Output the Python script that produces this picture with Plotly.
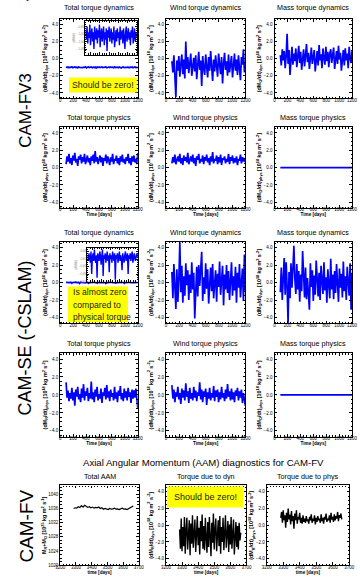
import plotly.graph_objects as go

W, H = 360, 584

# ---------------- data ----------------
total_dyn_fv3 = [-0.98, -1.03, -0.96, -1.05, -0.99, -1.02, -0.95, -1.06, -1.00, -0.97, -1.04, -0.99, -1.08, -0.96, -1.01,
                 -1.03, -0.97, -1.05, -0.98, -1.02, -0.95, -1.07, -1.00, -0.97, -1.04, -1.01, -0.96, -1.06, -0.99, -1.03,
                 -0.97, -1.09, -0.98, -1.02, -0.96, -1.04, -1.00, -0.97, -1.05, -0.99, -1.03, -0.96, -1.07, -1.01, -0.98,
                 -1.04, -0.97, -1.02, -0.99, -1.06, -0.96, -1.03, -1.00, -0.98, -1.05, -0.97, -1.02, -1.08, -0.99, -0.96,
                 -1.04, -1.01, -0.97, -1.03, -0.99, -1.06, -0.98, -1.02, -0.96, -1.05, -1.00, -0.97, -1.04, -0.99, -1.02]
wind_dyn_fv3 = [-0.3, -1.6, 0.4, -1.9, -4.5, -0.2, -1.4, 0.3, -2.1, -0.6, 0.5, -1.8, -0.1, -2.3, 2.0, -1.2, 0.2, -1.7,
                -0.5, 0.6, -2.0, -0.9, 0.1, -1.5, 0.4, -2.4, -0.7, 0.8, -1.3, -0.2, -3.2, 0.3, -1.1, -1.9, 0.5, -0.6,
                -2.2, 0.2, -1.4, 0.9, -0.8, -2.6, -0.1, -1.5, 0.4, -1.0, -2.1, 0.6, -0.4, -1.8, 0.2, -2.9, -0.6, 0.7,
                -1.3, -0.3, -2.0, 0.5, -1.6, -0.2, 0.3, -2.2, -0.8, 0.6, -1.4, -0.1, -1.9, 0.4, -1.1, -2.5, 0.2, -0.7,
                1.1, -1.6, -0.4]
mass_dyn_fv3 = [0.4, -0.8, 1.1, -0.2, 0.9, -1.1, 0.3, 2.9, -0.6, 1.0, -1.9, 0.2, 1.4, -0.7, 0.6, -0.3, 1.2, -1.0, 0.1,
                1.5, -0.5, 0.8, -1.3, 0.4, 1.1, -0.9, 0.2, 1.7, -0.4, 0.7, -1.2, 0.5, 1.3, -0.6, 0.0, 1.0, -1.5, 0.3,
                0.9, -0.8, 1.6, -0.2, 0.5, -1.1, 1.2, 0.1, -0.7, 1.4, -0.3, 0.8, -1.0, 0.6, 1.1, -0.5, 0.2, 1.3, -1.2,
                0.4, 0.9, -0.6, 1.5, -0.1, 0.7, -1.4, 0.3, 1.0, -0.8, 1.2, -0.2, 0.6, -1.1, 1.4, 0.0, -0.5, 1.0]
total_phys_fv3 = [0.4, 1.3, 0.7, 1.6, 0.5, 1.1, 0.3, 1.4, 0.8, 1.7, 0.6, 1.0, 0.2, 1.3, 0.9, 1.5, 0.5, 1.2, 0.7, 1.6,
                  0.4, 1.0, 1.4, 0.6, 1.1, 0.3, 1.3, 0.8, 1.5, 0.5, 1.9, 0.7, 1.2, 0.4, 1.0, 1.4, 0.6, 1.2, 0.2, 1.1,
                  0.8, 1.5, 0.5, 1.3, 0.9, 0.3, 1.2, 0.7, 1.6, 0.4, 1.0, 0.8, 1.4, 0.5, 1.1, 0.3, 1.3, 0.7, 1.5, 0.6,
                  1.0, 0.4, 1.2, 0.8, 1.6, 0.5, 1.1, 0.3, 1.3, 0.7, 1.4, 0.6, 1.0, 0.4, 1.7]
wind_phys_fv3 = [0.5, 1.2, 0.6, 1.5, 0.4, 1.0, 1.3, 0.7, 1.6, 0.5, 1.1, 0.3, 1.4, 0.8, 1.2, 0.6, 1.7, 0.4, 1.0, 1.3,
                 0.7, 1.5, 0.5, 1.1, 0.2, 1.3, 0.9, 1.6, 0.5, 1.0, 0.7, 1.4, 0.4, 1.2, 0.8, 1.5, 0.6, 1.1, 0.3, 1.3,
                 0.7, 1.8, 0.5, 1.0, 0.8, 1.4, 0.4, 1.2, 0.6, 1.5, 0.3, 1.1, 0.9, 1.3, 0.5, 1.0, 0.7, 1.6, 0.4, 1.2,
                 0.8, 1.4, 0.5, 1.1, 0.6, 1.3, 0.3, 1.0, 0.8, 1.5, 0.5, 1.2, 0.7, 1.1, 0.6]
mass_phys_fv3 = [0.0, 0.0]
mass_phys_days = [90, 1200]

total_dyn_se = [0.02, -0.01, 0.03, 0.00, -0.02, 0.04, -0.08, 0.01, 0.03, -0.01, 0.05, 0.00, -0.02, 0.02, -0.10, 0.03,
                0.01, -0.01, 0.04, 0.02, -0.03, 0.01, 0.05, -0.09, 0.02, 0.00, 0.03, -0.02, 0.01, 0.04, -0.01, 0.02,
                -0.07, 0.03, 0.00, 0.02, -0.02, 0.04, 0.01, -0.01, 0.03, -0.11, 0.02, 0.00, 0.03, -0.02, 0.01, 0.04,
                -0.01, 0.02, 0.00, -0.06, 0.03, 0.01, -0.02, 0.02, 0.04, -0.01, 0.01, 0.03, -0.08, 0.02, 0.00, 0.03,
                -0.01, 0.02, 0.04, -0.02, 0.01, 0.03, 0.00, -0.01, 0.02, 0.03, 0.01]
wind_dyn_se = [1.2, -1.8, 2.1, -0.6, -3.0, 1.5, -2.2, 0.4, 4.6, -1.1, 1.9, -2.3, 0.7, -1.5, 2.2, -0.3, 1.4, -2.0, 0.9,
               -1.2, 2.3, -0.8, 1.1, -4.1, 0.5, 1.8, -1.6, 2.0, -0.4, 1.3, 3.5, -2.1, 0.6, -1.3, 2.2, -0.7, 1.5, -2.4,
               0.8, 1.7, -1.0, 2.1, -1.8, 0.3, 1.4, -2.2, 1.0, -0.5, 2.4, -1.4, 0.6, 1.9, -2.6, 0.9, -0.8, 2.0, -1.2,
               1.3, -2.0, 0.4, 2.3, -1.5, 0.7, -0.9, 1.8, -2.3, 1.1, -0.6, 2.1, -1.7, 0.5, 1.6, -2.1, 3.2, -1.0]
mass_dyn_se = [-1.1, 1.7, -2.0, 0.7, 2.8, -1.4, 2.3, -0.5, -4.6, 1.2, -1.8, 2.2, -0.6, 1.6, 4.2, 0.4, -1.3, 2.1, -0.8,
               1.3, -2.2, 0.9, -1.0, 3.6, -0.4, -1.7, 1.7, -1.9, 0.5, -1.2, -3.1, 2.2, -0.5, 1.4, -2.1, 0.8, -1.4, 2.5,
               -0.7, -1.6, 1.1, -2.0, 1.9, -0.2, -1.3, 2.3, -0.9, 0.6, -2.3, 1.5, -0.5, -1.8, 2.7, -0.8, 0.9, -1.9,
               1.3, -1.2, 2.1, -0.3, -2.2, 1.6, -0.6, 1.0, -1.7, 2.4, -1.0, 0.7, -2.0, 1.8, -0.4, -1.5, 2.2, -3.1, 1.1]
total_phys_se = [1.4, -0.3, 0.5, -0.7, 0.2, -0.4, 0.8, -0.6, 0.3, -1.2, 0.6, -0.2, 0.9, -0.5, 0.1, -0.8, 0.7, -0.3,
                 1.2, -0.6, 0.4, -0.1, 0.8, -0.7, 0.2, -0.4, 1.5, -0.5, 0.3, -0.8, 0.6, -0.2, 0.9, -0.6, 0.1, -0.4,
                 0.7, -0.9, 0.3, -0.1, 0.8, -0.5, 1.1, -0.3, 0.4, -0.7, 0.6, -0.2, 0.2, -0.6, 0.9, -0.4, 0.3, -0.8,
                 0.5, -0.1, 1.0, -0.5, 0.2, -0.7, 0.7, -0.3, 0.4, -0.6, 0.8, -0.2, 0.3, -0.9, 0.6, -0.4, 0.5, -0.3,
                 0.7, -0.6, -1.5]
wind_phys_se = [1.1, -0.4, 0.6, -0.8, 0.3, -0.2, 0.9, -0.5, 0.2, -1.0, 0.7, -0.3, 0.5, -0.6, 1.3, -0.2, 0.4, -0.9,
                0.8, -0.4, 0.2, -0.6, 0.9, -0.3, 0.5, -0.7, 0.3, -0.1, 1.4, -0.5, 0.6, -0.8, 0.4, -0.2, 0.7, -1.1,
                0.3, -0.4, 0.8, -0.6, 0.2, -0.3, 1.0, -0.7, 0.5, -0.2, 0.6, -0.8, 0.3, -0.5, 0.9, -0.3, 0.2, -0.7,
                0.6, -0.4, 1.2, -0.2, 0.4, -0.6, 0.7, -0.5, 0.3, -0.8, 0.5, -0.1, 0.8, -0.6, 0.4, -0.3, 0.6, -0.9,
                0.2, -0.4, -1.2]
mass_phys_se = [0.0, 0.0]

aam_fv = [1036.0, 1036.2, 1036.1, 1036.5, 1036.3, 1036.8, 1036.4, 1036.9, 1036.6, 1036.3, 1036.5, 1036.2, 1036.4,
          1036.1, 1036.3, 1036.2, 1036.4, 1036.0, 1036.2, 1035.8, 1036.0, 1035.9, 1035.7, 1036.0, 1035.8, 1035.9,
          1036.1, 1035.8, 1035.9, 1035.7, 1036.0, 1036.1, 1035.8, 1035.9, 1035.7, 1036.0, 1036.2, 1036.4, 1036.7]
dyn_fv = [-0.5, -2.8, 0.8, -3.1, -0.2, -2.5, 1.0, -3.4, -0.6, 0.9, -2.9, -1.0, 0.6, -3.6, 0.2, -2.2, 1.2, -2.7, -0.4,
          0.7, -3.2, -0.8, 1.1, -2.4, -0.3, -3.5, 0.5, -1.9, 1.3, -2.8, -0.1, -3.0, 0.9, -1.5, -3.3, 0.4, -2.6, 1.0,
          -0.7, -3.7, 0.3, -2.1, 1.4, -2.9, -0.5, 0.8, -3.1, -1.2, 0.6, -2.5, 1.1, -3.4, -0.2, -2.0, 0.9, -3.0, -0.6,
          1.2, -2.7, -0.9, 0.5, -3.2, 0.1, -2.3, 1.0, -2.8, -0.4, 0.7, -3.5, -0.8, 0.4, -2.6, -0.1, -2.9, 0.3, -1.8,
          -0.9]
phys_fv = [0.9, 1.6, 0.3, 1.8, 0.6, 1.2, -0.3, 1.5, 0.4, 2.0, 0.7, 1.3, 0.1, 1.7, 0.5, 1.1, -0.4, 1.4, 0.6, 1.8, 0.2,
           1.0, 0.7, 1.5, 0.3, 0.9, 0.2, 1.2, 0.4, 0.8, 0.3, 1.1, 0.5, 0.7, 0.2, 1.0, 0.6, 1.3, 0.3, 0.8, 0.5, 1.2,
           0.1, 0.9, 0.4, 1.1, 0.6, 0.8, 0.3, 1.3, 0.5, 0.9, 0.2, 1.0, 0.7, 1.4, 0.4, 0.8, 0.6, 1.2, 0.3, 1.5, 0.7,
           1.0, 0.4, 1.3, 0.6, 1.1, 0.8, 1.6, 0.5, 1.2, 0.9, 1.4, 0.7]


def torque_days(vals):
    return [90 + 15 * i for i in range(len(vals))]


def aam_days(vals, step):
    return [3285 + step * i for i in range(len(vals))]


# ---------------- layout helpers ----------------
FONT = "Liberation Sans"
fig = go.Figure()
layout = dict(width=W, height=H, margin=dict(l=0, r=0, t=0, b=0), showlegend=False,
              paper_bgcolor="white", plot_bgcolor="white", font=dict(family=FONT, color="#000000"))
annotations = []
shapes = []


def xd(a, b):
    return [a / W, b / W]


def yd(top, bot):
    return [1 - bot / H, 1 - top / H]


def axis_style(dom, rng, dtick, minor_dtick, fmt=None, title=None, showlabels=True, tsize=4.5, color="#000000",
               lw=1.2, tsz=5.4, standoff=1):
    d = dict(domain=dom, range=rng, showline=True, linecolor="black", linewidth=lw, mirror="allticks",
             ticks="inside", ticklen=2.5, tickwidth=0.7, tickcolor="black", dtick=dtick, tick0=0,
             showgrid=False, zeroline=False, showticklabels=showlabels,
             tickfont=dict(size=tsize, family=FONT, color=color),
             minor=dict(ticks="inside", ticklen=1.3, tickwidth=0.5, tickcolor="black", dtick=minor_dtick),
             fixedrange=True)
    if fmt:
        d["tickformat"] = fmt
    if title:
        d["title"] = dict(text=title, font=dict(size=tsz, family=FONT, color=color), standoff=standoff)
    return d


def ytitle(kind, sym="R"):
    return ("<b>(dM<sub>%s</sub>/dt)<sub>%s</sub> [10<sup>18</sup> kg m<sup>2</sup> s<sup>-2</sup>]</b>"
            % (sym, kind))


def add_panel(idx, xdom, ydom, xr, yr, xdt, xmdt, ydt, ymdt, yfmt, xtitle, ytit, title, ty, series, tick0x=0):
    xname = "xaxis" if idx == 1 else "xaxis%d" % idx
    yname = "yaxis" if idx == 1 else "yaxis%d" % idx
    xa = axis_style(xdom, xr, xdt, xmdt, title=xtitle, tsz=4.6, standoff=1)
    xa["tick0"] = tick0x
    xa["minor"]["tick0"] = tick0x
    xa["ticklabelstandoff"] = -3
    xa["anchor"] = "y" if idx == 1 else "y%d" % idx
    ya = axis_style(ydom, yr, ydt, ymdt, fmt=yfmt, title=ytit)
    ya["anchor"] = "x" if idx == 1 else "x%d" % idx
    layout[xname] = xa
    layout[yname] = ya
    for (xs, ys, col, w) in series:
        fig.add_trace(go.Scatter(x=xs, y=ys, mode="lines", line=dict(color=col, width=w),
                                 xaxis="x" if idx == 1 else "x%d" % idx,
                                 yaxis="y" if idx == 1 else "y%d" % idx, hoverinfo="skip"))
    if title:
        annotations.append(dict(text=title, x=(xdom[0] + xdom[1]) / 2, y=1 - ty / H, xref="paper", yref="paper",
                                showarrow=False, xanchor="center", yanchor="middle",
                                font=dict(size=7.2, family=FONT, color="#000000")))


BLUE = "#0000ff"
cols = [(57, 137), (166, 248), (278, 358)]
rows = [(19, 99), (128, 209), (243, 325), (355, 439)]
title_y = [8, 118, 234, 345]
YR = [-4.65, 4.65]

grid = [
    [("Total torque dynamics", total_dyn_fv3, "dyn", "R"), ("Wind torque dynamics", wind_dyn_fv3, "dyn", "R"),
     ("Mass torque dynamics", mass_dyn_fv3, "dyn", "\u03a9")],
    [("Total torque physics", total_phys_fv3, "phys", "R"), ("Wind torque physics", wind_phys_fv3, "phys", "R"),
     ("Mass torque physics", mass_phys_fv3, "phys", "\u03a9")],
    [("Total torque dynamics", total_dyn_se, "dyn", "R"), ("Wind torque dynamics", wind_dyn_se, "dyn", "R"),
     ("Mass torque dynamics", mass_dyn_se, "dyn", "\u03a9")],
    [("Total torque physics", total_phys_se, "phys", "R"), ("Wind torque physics", wind_phys_se, "phys", "R"),
     ("Mass torque physics", mass_phys_se, "phys", "\u03a9")],
]

idx = 1
for r, row in enumerate(grid):
    for c, (ttl, vals, kind, sym) in enumerate(row):
        xs = mass_phys_days if len(vals) == 2 else torque_days(vals)
        xtitle = "<b>Time [days]</b>" if r in (1, 3) else None
        add_panel(idx, xd(*cols[c]), yd(*rows[r]), [0, 1200], YR, 200, 50, 2, 0.5, ".1f",
                  xtitle, ytitle(kind, sym), ttl, title_y[r], [(xs, vals, BLUE, 1.7)])
        idx += 1

# bottom row CAM-FV
bcols = [(57, 138), (166, 249), (270, 355)]
brow = (488, 568)
add_panel(idx, xd(*bcols[0]), yd(*brow), [3200, 3700], [1020, 1042.5], 100, 20, 4, 1, "d", "<b>time [days]</b>",
          "<b>M<sub>R</sub>+M<sub>\u03a9</sub> [10<sup>25</sup> kg m<sup>2</sup> s<sup>-1</sup>]</b>",
          "Total AAM", 479, [(aam_days(aam_fv, 10), aam_fv, "black", 1.2)], tick0x=3200)
layout["yaxis%d" % idx]["tick0"] = 1020
idx += 1
add_panel(idx, xd(*bcols[1]), yd(*brow), [3200, 3700], [-4.77, 4.77], 100, 20, 2, 0.5, ".1f", "<b>time [days]</b>",
          ytitle("dyn"), "Torque due to dyn", 479, [(aam_days(dyn_fv, 5), dyn_fv, "black", 1.4)], tick0x=3200)
idx += 1
add_panel(idx, xd(*bcols[2]), yd(*brow), [3200, 3700], [-4.77, 4.77], 100, 20, 2, 0.5, ".1f", "<b>time [days]</b>",
          ytitle("phys"), "Torque due to phys", 479, [(aam_days(phys_fv, 5), phys_fv, "black", 1.4)], tick0x=3200)
idx += 1


# insets (zoom of total dynamical torque)
def add_inset(idx, xdom, ydom, vals, yr, ydt):
    xname, yname = "xaxis%d" % idx, "yaxis%d" % idx
    xa = axis_style(xdom, [85, 1205], 200, 50, showlabels=False, lw=1.0)
    xa["anchor"] = "y%d" % idx
    ya = axis_style(ydom, yr, ydt, ydt / 4, fmt=".2f", showlabels=True, tsize=2.8, color="#888888", lw=1.0,
                    title="(dM/dt)", tsz=3.0, standoff=1)
    ya["ticklen"] = 1.5
    ya["minor"]["ticklen"] = 0.8
    ya["tick0"] = 0
    ya["anchor"] = "x%d" % idx
    layout[xname] = xa
    layout[yname] = ya
    fig.add_trace(go.Scatter(x=torque_days(vals), y=vals, mode="lines", line=dict(color=BLUE, width=1.4),
                             xaxis="x%d" % idx, yaxis="y%d" % idx, hoverinfo="skip"))


add_inset(idx, xd(83, 136), yd(21, 55), total_dyn_fv3, [-1.11, -0.93], 0.04)
idx += 1
add_inset(idx, xd(85, 137), yd(249, 283), total_dyn_se, [-0.12, 0.06], 0.04)
idx += 1


# yellow note boxes
def ybox(x0, y0, x1, y1):
    shapes.append(dict(type="rect", xref="paper", yref="paper", x0=x0 / W, x1=x1 / W, y0=1 - y1 / H, y1=1 - y0 / H,
                       fillcolor="#ffff00", line=dict(width=0), layer="above"))


def note(text, x, y, size=8.3, anchor="center"):
    annotations.append(dict(text=text, x=x / W, y=1 - y / H, xref="paper", yref="paper", showarrow=False,
                            xanchor=anchor, yanchor="middle", font=dict(size=size, family=FONT, color="#222222")))


ybox(66, 78, 136, 93)
note("Should be zero!", 101.5, 85.5, 8.8)
ybox(65, 288, 127, 324)
note("Is almost zero", 68, 294, 8.6, "left")
note("compared to", 68, 306.5, 8.6, "left")
note("physical torque", 68, 319, 8.6, "left")
ybox(167, 489, 246, 510)
note("Should be zero!", 207, 499.5, 9.0)


# big labels
def side(text, y, x=21, size=18):
    annotations.append(dict(text=text, x=x / W, y=1 - y / H, xref="paper", yref="paper", showarrow=False,
                            textangle=-90, xanchor="center", yanchor="middle",
                            font=dict(size=size, family=FONT, color="#000000")))


side("CAM-FV3", 111, 21, 17)
side("CAM-SE (-CSLAM)", 340, 21, 18)
side("CAM-FV", 529, 22, 19)

annotations.append(dict(text="Axial Angular Momentum (AAM) diagnostics for CAM-FV", x=204.5 / W, y=1 - 465 / H,
                        xref="paper", yref="paper", showarrow=False, xanchor="center", yanchor="middle",
                        font=dict(size=9.6, family=FONT, color="#000000")))
annotations.append(dict(text="Dynamical core:", x=12 / W, y=1 - 3 / H, xref="paper", yref="paper",
                        showarrow=False, xanchor="left", yanchor="bottom",
                        font=dict(size=10, family=FONT, color="#000000")))

layout["annotations"] = annotations
layout["shapes"] = shapes
fig.update_layout(**layout)
fig.write_html("out.html", config={"displayModeBar": False},
               post_script="document.body.style.margin='0';document.body.style.padding='0';")
